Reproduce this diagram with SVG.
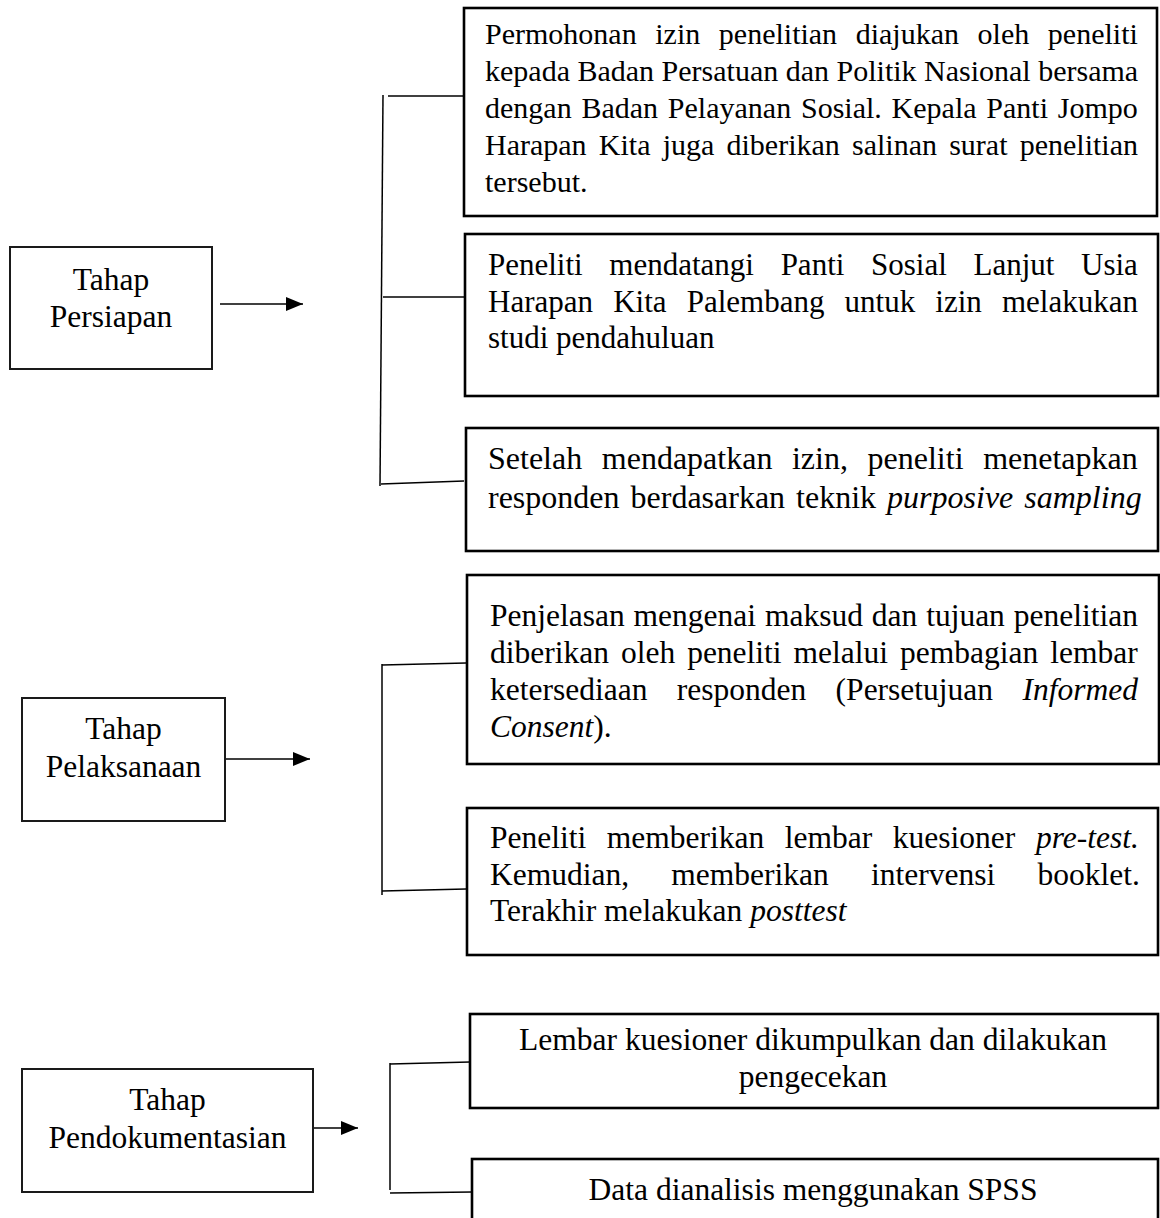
<svg xmlns="http://www.w3.org/2000/svg" width="1160" height="1218" viewBox="0 0 1160 1218">
<style>
.bg{fill:#fff}
.rbox{fill:#fff;stroke:#000;stroke-width:2.6}
.lbox{fill:#fff;stroke:#1a1a1a;stroke-width:2}
.t{font-family:"Liberation Serif","Times New Roman",serif;fill:#000}
.c{text-anchor:middle}
.i{font-style:italic}
.conn line{stroke:#000;stroke-width:1.5;fill:none}
.conn .arr{stroke-width:1.6}
</style>
<defs>
<marker id="ah" markerUnits="userSpaceOnUse" markerWidth="18" markerHeight="15" refX="17" refY="7.5" orient="auto">
<path d="M0,0.5 L17,7.5 L0,14.5 z" fill="#000"/>
</marker>
</defs>
<rect class="bg" x="0" y="0" width="1160" height="1218"/>

<g id="connectors" class="conn">
<line class="arr" x1="220" y1="304" x2="303" y2="304" marker-end="url(#ah)"/>
<line class="arr" x1="226" y1="759" x2="310" y2="759" marker-end="url(#ah)"/>
<line class="arr" x1="314" y1="1128" x2="358" y2="1128" marker-end="url(#ah)"/>
<line x1="383" y1="95" x2="380" y2="486"/>
<line x1="388" y1="96" x2="463" y2="96"/>
<line x1="383" y1="297" x2="464" y2="297"/>
<line x1="381" y1="484" x2="464" y2="481"/>
<line x1="382" y1="664" x2="382" y2="895"/>
<line x1="382" y1="665" x2="466" y2="663"/>
<line x1="382" y1="891" x2="466" y2="889"/>
<line x1="390" y1="1063" x2="390" y2="1190"/>
<line x1="390" y1="1064" x2="470" y2="1062"/>
<line x1="390" y1="1193" x2="472" y2="1192"/>
</g>

<g id="tahap-persiapan">
<rect class="lbox" x="10" y="247" width="202" height="122"/>
<text class="t c" x="111" y="290" font-size="31.5">Tahap</text>
<text class="t c" x="111" y="327" font-size="31.5">Persiapan</text>
</g>

<g id="tahap-pelaksanaan">
<rect class="lbox" x="22" y="698" width="203" height="123"/>
<text class="t c" x="123.5" y="739" font-size="31.5">Tahap</text>
<text class="t c" x="123.5" y="777" font-size="31.5">Pelaksanaan</text>
</g>

<g id="tahap-pendokumentasian">
<rect class="lbox" x="22" y="1069" width="291" height="123"/>
<text class="t c" x="167.5" y="1110" font-size="31.5">Tahap</text>
<text class="t c" x="167.5" y="1148" font-size="31.5">Pendokumentasian</text>
</g>

<g id="permohonan-izin">
<rect class="rbox" x="464" y="8" width="693" height="208"/>
<g class="t" font-size="30">
<text x="485" y="44" word-spacing="11.1">Permohonan izin penelitian diajukan oleh peneliti</text>
<text x="485" y="81" word-spacing="0">kepada Badan Persatuan dan Politik Nasional bersama</text>
<text x="485" y="118" word-spacing="2.3">dengan Badan Pelayanan Sosial. Kepala Panti Jompo</text>
<text x="485" y="155" word-spacing="4.7">Harapan Kita juga diberikan salinan surat penelitian</text>
<text x="485" y="192">tersebut.</text>
</g>
</g>

<g id="studi-pendahuluan">
<rect class="rbox" x="465" y="234" width="693" height="162"/>
<g class="t" font-size="31">
<text x="488" y="275" word-spacing="18.9">Peneliti mendatangi Panti Sosial Lanjut Usia</text>
<text x="488" y="312" word-spacing="12.4">Harapan Kita Palembang untuk izin melakukan</text>
<text x="488" y="348">studi pendahuluan</text>
</g>
</g>

<g id="menetapkan-responden">
<rect class="rbox" x="466" y="428" width="692" height="123"/>
<g class="t" font-size="32">
<text x="488" y="469" word-spacing="11.6">Setelah mendapatkan izin, peneliti menetapkan</text>
<text x="488" y="508" word-spacing="3">responden berdasarkan teknik <tspan class="i">purposive sampling</tspan></text>
</g>
</g>

<g id="informed-consent">
<rect class="rbox" x="467" y="575" width="692" height="189"/>
<g class="t" font-size="31.5">
<text x="490" y="626" word-spacing="1">Penjelasan mengenai maksud dan tujuan penelitian</text>
<text x="490" y="663" word-spacing="4.1">diberikan oleh peneliti melalui pembagian lembar</text>
<text x="490" y="700" word-spacing="21.5">ketersediaan responden (Persetujuan <tspan class="i">Informed</tspan></text>
<text x="490" y="737"><tspan class="i">Consent</tspan>).</text>
</g>
</g>

<g id="kuesioner-intervensi">
<rect class="rbox" x="467" y="808" width="691" height="147"/>
<g class="t" font-size="31.5">
<text x="490" y="848" word-spacing="12.7">Peneliti memberikan lembar kuesioner <tspan class="i">pre-test.</tspan></text>
<text x="490" y="885" word-spacing="34.4">Kemudian, memberikan intervensi booklet.</text>
<text x="490" y="921">Terakhir melakukan <tspan class="i">posttest</tspan></text>
</g>
</g>

<g id="pengecekan">
<rect class="rbox" x="470" y="1014" width="688" height="94"/>
<g class="t c" font-size="31.5">
<text x="813" y="1050">Lembar kuesioner dikumpulkan dan dilakukan</text>
<text x="813" y="1087">pengecekan</text>
</g>
</g>

<g id="analisis-spss">
<rect class="rbox" x="472" y="1159" width="686" height="80"/>
<text class="t c" x="813" y="1200" font-size="31.5">Data dianalisis menggunakan SPSS</text>
</g>
</svg>
